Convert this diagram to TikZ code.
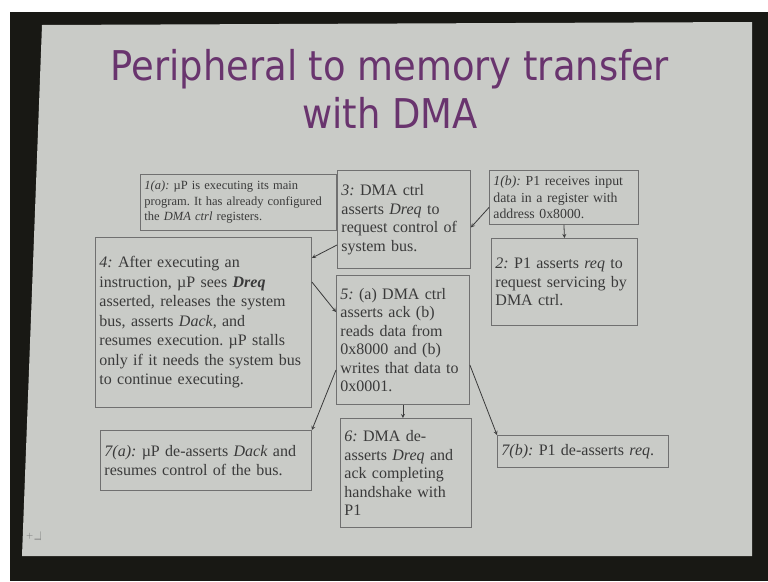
\documentclass[tikz,border=0pt]{standalone}
\usepackage{fontspec}
\setmainfont{Liberation Serif}
\newfontfamily\titlefont{DejaVu Sans Condensed}
\usepackage{tikz}
\usetikzlibrary{arrows}
\definecolor{slidegray}{RGB}{201,203,199}
\definecolor{framedark}{RGB}{24,24,20}
\definecolor{titlepurple}{RGB}{105,52,110}
\definecolor{inkgray}{RGB}{58,58,58}
\definecolor{linegray}{RGB}{112,112,112}
\tikzstyle{note} = [rectangle, anchor=north west, draw=linegray, line width=0.9pt, text=inkgray, align=left, inner xsep=4pt, inner ysep=3pt, font=\fontsize{16}{18.5}\selectfont]
\tikzstyle{headline} = [anchor=base, text=titlepurple, font=\titlefont\fontsize{41}{48}\selectfont]
\tikzstyle{arrow} = [->,>=stealth, draw=inkgray, line width=0.8pt]
\newcommand{\lbl}[1]{\textit{#1}}
\frenchspacing
\hyphenpenalty=10000

\begin{document}
\begin{tikzpicture}[x=1pt, y=-1pt]
\useasboundingbox (0,0) rectangle (768,581);
\fill[white] (0,0) rectangle (768,581);
\fill[framedark] (10,12) rectangle (768,581);
\fill[slidegray] (42,25) -- (752,22) -- (752,556) -- (22,556) -- cycle;

\node (title) [headline] at (390,80) {Peripheral to memory transfer};
\node (title2) [headline] at (390,128) {with DMA};

\node (one_a) [note, text width=188pt, minimum height=56pt, font=\fontsize{12.5}{15.5}\selectfont] at (140,174) {\lbl{1(a):} µP is executing its main\\
\mbox{program. It has already configured}\\
the \textit{DMA ctrl} registers.};
\node (three) [note, text width=125pt, minimum height=98pt] at (337,170) {\lbl{3:} DMA ctrl\\
asserts \textit{Dreq} to\\
request control of\\
system bus.};
\node (one_b) [note, text width=141pt, minimum height=54pt, font=\fontsize{13.8}{16.5}\selectfont] at (489,170) {\lbl{1(b):} P1 receives input\\
\mbox{data in a register with}\\
address 0x8000.};
\node (two) [note, text width=138pt, minimum height=87pt] at (491,238) {\lbl{2:} P1 asserts \textit{req} to\\
request servicing by\\
DMA ctrl.};
\node (four) [note, text width=208pt, minimum height=170pt, font=\fontsize{16}{19.5}\selectfont] at (95,237) {\lbl{4:} After executing an\\
instruction, µP sees \textbf{\textit{Dreq}}\\
asserted, releases the system\\
bus, asserts \textit{Dack}, and\\
resumes execution. µP stalls\\
only if it needs the system bus\\
to continue executing.};
\node (five) [note, text width=125pt, minimum height=129pt] at (336,275) {\lbl{5:} (a) DMA ctrl\\
asserts ack (b)\\
reads data from\\
0x8000 and (b)\\
writes that data to\\
0x0001.};
\node (seven_a) [note, text width=203pt, minimum height=60pt] at (100,430) {\lbl{7(a):} µP de-asserts \textit{Dack} and\\
resumes control of the bus.};
\node (six) [note, text width=123pt, minimum height=109pt] at (340,418) {\lbl{6:} DMA de-\\
asserts \textit{Dreq} and\\
ack completing\\
handshake with\\
P1};
\node (seven_b) [note, text width=163pt, minimum height=32pt] at (497,435) {\lbl{7(b):} P1 de-asserts \textit{req}.};

% handshake order
\draw[arrow] ([yshift=-10pt]one_b.west) -- ([yshift=-8pt]three.east);
\draw[arrow] (one_b.south) -- (two.north);
\draw[arrow] ([yshift=-75pt]three.north west) -- ([yshift=-21pt]four.north east);
\draw[arrow] ([yshift=-45pt]four.north east) -- ([yshift=-37pt]five.north west);
\draw[arrow] ([yshift=-95pt]five.north west) -- (seven_a.north east);
\draw[arrow] (five.south) -- (five.south |- six.north);
\draw[arrow] ([yshift=-90pt]five.north east) -- (seven_b.north west);

\node (navicon) [text=linegray, font=\sffamily\small, inner sep=1pt] at (34,536) {+\,\_\!|};
\end{tikzpicture}
\end{document}
